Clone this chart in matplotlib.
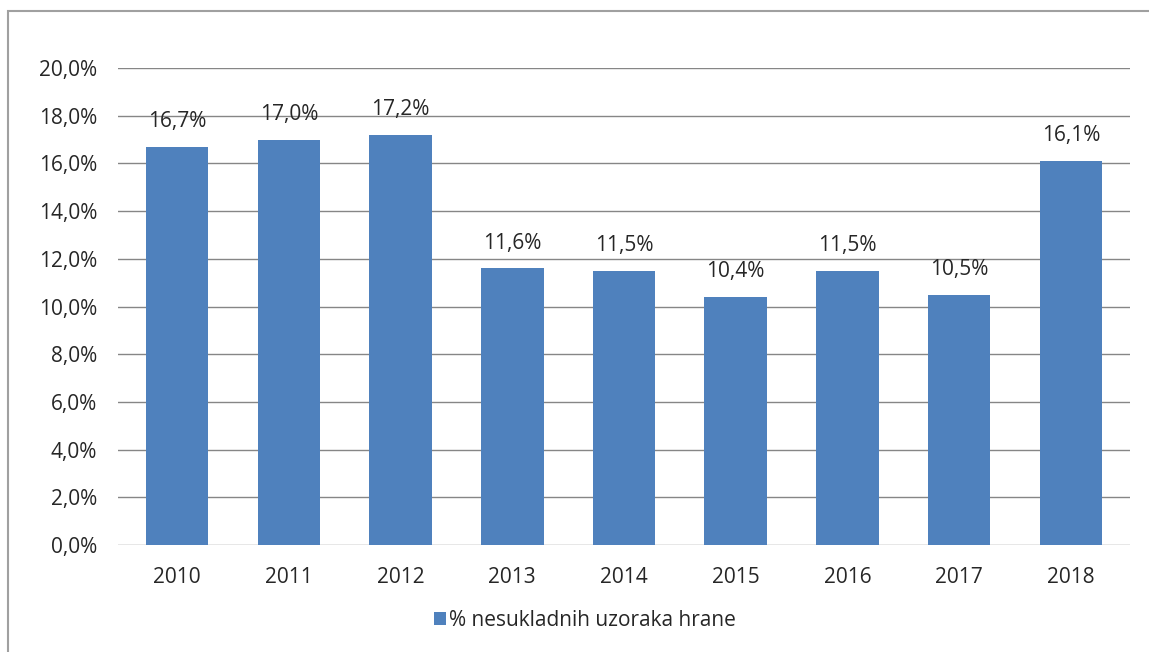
import matplotlib
matplotlib.use('Agg')
import matplotlib.pyplot as plt
from matplotlib.patches import Rectangle

plt.rcParams['font.family'] = ['Open Sans', 'DejaVu Sans']

# data
years = ['2010', '2011', '2012', '2013', '2014', '2015', '2016', '2017', '2018']
values = [16.7, 17.0, 17.2, 11.6, 11.5, 10.4, 11.5, 10.5, 16.1]
yticks = [0, 2, 4, 6, 8, 10, 12, 14, 16, 18, 20]
series_name = '% nesukladnih uzoraka hrane'

bar_color = '#4F81BD'
text_color = '#262626'
fs = 15

fig = plt.figure(figsize=(11.49, 6.52), dpi=100)
ax = fig.add_axes([118 / 1149, 1 - 545 / 652, (1130 - 118) / 1149, (545 - 68) / 652])

x = range(len(years))
bars = ax.bar(x, values, width=0.56, color=bar_color, zorder=2, label=series_name)

for xi, v in zip(x, values):
    ax.text(xi, v + 1.05, f'{v:.1f}%'.replace('.', ','), ha='center', va='center',
            fontsize=fs, color=text_color, zorder=3)

ax.set_xlim(-0.53, len(years) - 0.47)
ax.set_ylim(0, 20)
ax.set_yticks(yticks)
ax.set_yticklabels([f'{t:.1f}%'.replace('.', ',') for t in yticks])
ax.set_xticks(list(x))
ax.set_xticklabels(years)
ax.tick_params(axis='both', length=0, labelsize=fs, labelcolor=text_color)
ax.tick_params(axis='y', pad=15)
ax.tick_params(axis='x', pad=16)
ax.grid(axis='y', color='#868686', linewidth=1, zorder=1)
for s in ax.spines.values():
    s.set_visible(False)

# outer frame
fig.patches.append(Rectangle((8 / 1149, -0.1), 1.2, 1 - 11 / 652 + 0.1, transform=fig.transFigure,
                             fill=False, edgecolor='#A0A0A0', linewidth=1.5))

fig.legend(handles=[bars], labels=[series_name], loc='center', bbox_to_anchor=(585 / 1149, 1 - 620 / 652),
           frameon=False, fontsize=fs, handlelength=0.6, handleheight=0.6, handletextpad=0.15,
           labelcolor=text_color)

fig.savefig('out.png', dpi=100)
